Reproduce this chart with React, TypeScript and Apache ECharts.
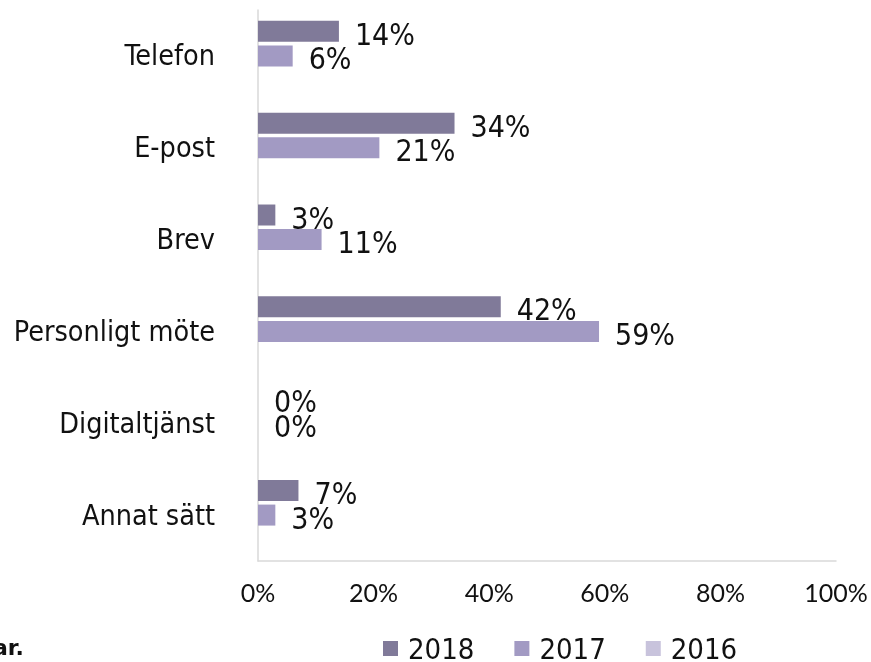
import React, { useEffect, useRef } from "react";
import * as echarts from "echarts";

const categories = ["Telefon", "E-post", "Brev", "Personligt möte", "Digitaltjänst", "Annat sätt"];
const values2018 = [14, 34, 3, 42, 0, 7];
const values2017 = [6, 21, 11, 59, 0, 3];
const values2016: (number | string)[] = ["-", "-", "-", "-", "-", "-"];
const seriesNames = ["2018", "2017", "2016"];
const xTicks = [0, 20, 40, 60, 80, 100];

const FONT = "'DejaVu Sans Condensed', 'DejaVu Sans', sans-serif";

export default function App() {
  const ref = useRef<HTMLDivElement>(null);
  useEffect(() => {
    document.body.style.margin = "0";
    if (!ref.current) return;
    const chart = echarts.init(ref.current, null, { renderer: "svg" });
    const colors = ["#807a99", "#a29ac3", "#c8c3dc"];
    const label = {
      show: true,
      position: "right" as const,
      distance: 16,
      offset: [0, 3],
      formatter: "{c}%",
      fontSize: 30,
      fontFamily: FONT,
      color: "#111",
    };
    const mk = (name: string, data: any[], color: string) => ({
      name,
      type: "bar",
      data,
      barWidth: 21,
      barGap: "17%",
      itemStyle: { color },
      label,
    });
    chart.setOption({
      animation: false,
      color: colors,
      grid: { left: 258, right: 35, top: 10, bottom: 101, containLabel: false },
      legend: {
        data: seriesNames,
        left: 383,
        top: 634,
        padding: 0,
        itemWidth: 15,
        itemHeight: 15,
        itemGap: 40,
        icon: "rect",
        textStyle: {
          fontSize: 29,
          lineHeight: 28,
          fontFamily: FONT,
          color: "#111",
          padding: [0, 0, 0, 5],
        },
      },
      xAxis: {
        type: "value",
        min: xTicks[0],
        max: xTicks[xTicks.length - 1],
        interval: 20,
        axisLine: { show: true, lineStyle: { color: "#d9d9d9", width: 1.5 } },
        axisTick: { show: false },
        splitLine: { show: false },
        axisLabel: {
          formatter: "{value}%",
          fontSize: 25,
          fontFamily: "Lato, sans-serif",
          color: "#111",
          margin: 18,
        },
      },
      yAxis: {
        type: "category",
        data: categories,
        inverse: true,
        axisLine: { show: true, lineStyle: { color: "#d9d9d9", width: 1.5 } },
        axisTick: { show: false },
        axisLabel: { fontSize: 28.5, fontFamily: FONT, color: "#111", margin: 43 },
      },
      graphic: [
        {
          type: "text",
          left: -7,
          top: 636,
          style: { text: "ar.", font: "bold 22px 'DejaVu Sans', sans-serif", fill: "#111" },
        },
      ],
      series: [
        mk(seriesNames[0], values2018, colors[0]),
        mk(seriesNames[1], values2017, colors[1]),
        mk(seriesNames[2], values2016, colors[2]),
      ],
    });
    return () => chart.dispose();
  }, []);
  return <div ref={ref} style={{ position: "fixed", left: 0, top: 0, width: 871, height: 662 }} />;
}
